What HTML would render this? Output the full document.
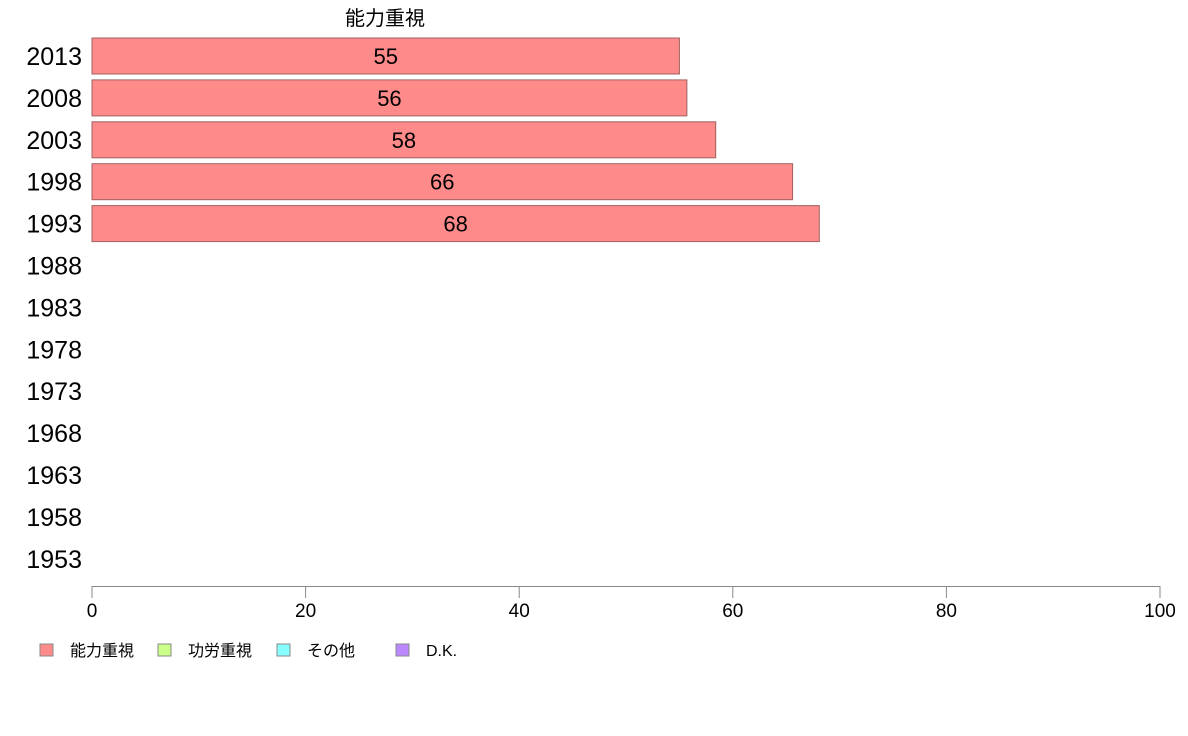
<!DOCTYPE html>
<html><head><meta charset="utf-8"><style>
body{margin:0;background:#fff;}
svg{display:block;font-family:"Liberation Sans","Noto Sans CJK JP",sans-serif;}
</style></head><body>
<svg width="1188" height="736">
<script>
const years=["2013","2008","2003","1998","1993","1988","1983","1978","1973","1968","1963","1958","1953"];
const values=[55,55.7,58.4,65.6,68.1];
const valueLabels=["55","56","58","66","68"];
const xTicks=[0,20,40,60,80,100];
const legendLabels=["能力重視","功労重視","その他","D.K."];
const legendColors=["#ff8a8a","#ccff88","#88ffff","#bb88ff"];
</script>
<text x="385" y="25" text-anchor="middle" font-size="20">能力重視</text>
<g id="g"></g>
<script>
const NS="http://www.w3.org/2000/svg";
const g=document.getElementById('g');
const x=v=>92+v*10.68;
const yc=i=>56+i*41.9;
function mk(t,a){const e=document.createElementNS(NS,t);for(const k in a)e.setAttribute(k,a[k]);g.appendChild(e);return e;}
years.forEach((yr,i)=>{
 const t=mk('text',{x:82,y:yc(i)+9,'text-anchor':'end','font-size':25});
 
 
 t.textContent=yr;
});
values.forEach((v,i)=>{
 const r=mk('rect',{x:x(0),y:yc(i)-18,width:x(v)-x(0),height:36,fill:'#ff8a8a',stroke:'#a06060','stroke-width':1});
 
 
 const t=mk('text',{x:(x(0)+x(v))/2,y:yc(i)+8,'text-anchor':'middle','font-size':22});
 
 
 t.textContent=valueLabels[i];
});
const ax=mk('line',{x1:x(0),x2:x(100),y1:586.5,y2:586.5,stroke:'#888'});


xTicks.forEach(v=>{
 const l=mk('line',{x1:x(v),x2:x(v),y1:586,y2:598,stroke:'#888'});
 
 
 const t=mk('text',{x:x(v),y:617,'text-anchor':'middle','font-size':19});
 
 
 t.textContent=v;
});
const lx=[40,158,277,396];
legendLabels.forEach((s,i)=>{
 const r=mk('rect',{x:lx[i],y:644,width:13,height:12,fill:legendColors[i],stroke:'#888'});
 
 
 const t=mk('text',{x:lx[i]+30,y:656,'font-size':16});
 
 
 t.textContent=s;
});
</script>
</svg>
</body></html>
